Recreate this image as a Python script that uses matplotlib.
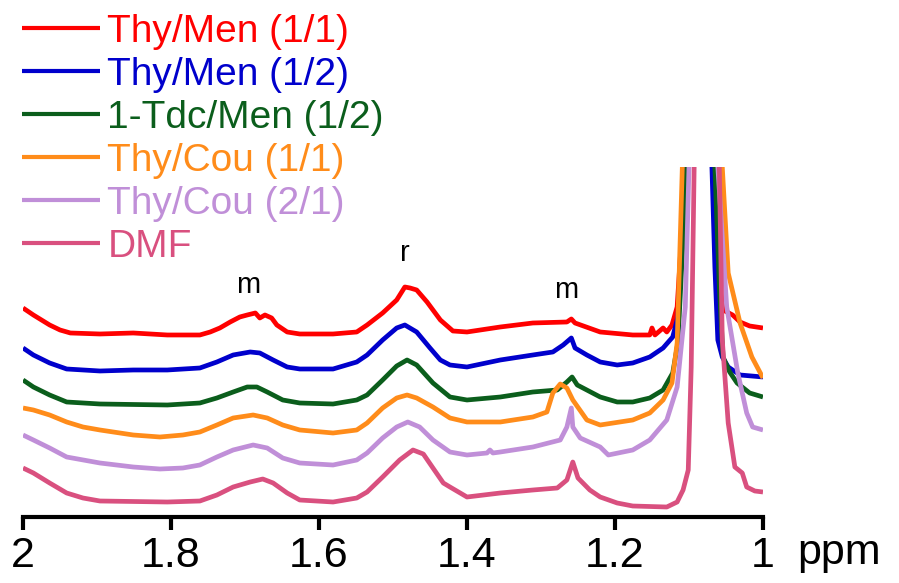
import matplotlib
matplotlib.use("Agg")
import matplotlib.pyplot as plt

plt.rcParams['font.family'] = ['Liberation Sans', 'DejaVu Sans']

# series labels and colours (legend order)
labels = ["Thy/Men (1/1)", "Thy/Men (1/2)", "1-Tdc/Men (1/2)",
          "Thy/Cou (1/1)", "Thy/Cou (2/1)", "DMF"]
colors = ["#ff0000", "#0000cc", "#0b5e1c", "#ff8c1a", "#c08fd8", "#d9507f"]

# chemical shift (ppm) and stacked intensity (a.u., offset included)
thymen11_ppm = [2.000, 1.986, 1.964, 1.950, 1.936, 1.896, 1.851, 1.805, 1.761, 1.747,
                1.734, 1.720, 1.707, 1.697, 1.686, 1.680, 1.673, 1.664, 1.657, 1.643,
                1.626, 1.581, 1.549, 1.535, 1.514, 1.495, 1.484, 1.477, 1.468, 1.454,
                1.436, 1.419, 1.400, 1.355, 1.311, 1.265, 1.259, 1.254, 1.220, 1.176,
                1.153, 1.150, 1.146, 1.135, 1.130, 1.123, 1.116, 1.104, 1.086, 1.068,
                1.064, 1.058, 1.054, 1.041, 1.031, 1.018, 1.000]
thymen11_int = [209, 202, 192, 187, 184, 183, 184, 182, 182, 185,
                189, 195, 200, 202, 204, 199, 202, 199, 192, 185,
                183, 183, 185, 192, 204, 217, 230, 229, 227, 215,
                197, 186, 185, 190, 194, 195, 198, 194, 185, 182,
                182, 189, 182, 189, 185, 192, 210, 350, 3000, 350,
                287, 227, 207, 202, 195, 191, 189]

thymen12_ppm = [2.000, 1.986, 1.964, 1.941, 1.896, 1.851, 1.805, 1.761, 1.738, 1.716,
                1.693, 1.680, 1.662, 1.643, 1.626, 1.581, 1.549, 1.535, 1.514, 1.495,
                1.484, 1.468, 1.450, 1.436, 1.423, 1.400, 1.355, 1.311, 1.284, 1.270,
                1.259, 1.254, 1.238, 1.220, 1.197, 1.176, 1.153, 1.135, 1.122, 1.115,
                1.104, 1.086, 1.069, 1.065, 1.061, 1.055, 1.047, 1.031, 1.000]
thymen12_int = [169, 162, 154, 148, 146, 147, 147, 149, 155, 162,
                165, 164, 157, 150, 148, 148, 155, 162, 177, 189,
                192, 185, 169, 157, 152, 150, 157, 162, 165, 172,
                179, 169, 162, 155, 152, 154, 160, 169, 180, 200,
                350, 3000, 350, 250, 177, 160, 150, 142, 140]

tdcmen12_ppm = [2.000, 1.986, 1.964, 1.941, 1.896, 1.805, 1.761, 1.738, 1.716, 1.697,
                1.684, 1.670, 1.649, 1.626, 1.581, 1.549, 1.535, 1.514, 1.495, 1.481,
                1.468, 1.446, 1.423, 1.400, 1.355, 1.311, 1.278, 1.265, 1.258, 1.251,
                1.220, 1.197, 1.176, 1.153, 1.135, 1.122, 1.115, 1.103, 1.085, 1.065,
                1.059, 1.054, 1.045, 1.035, 1.018, 1.000]
tdcmen12_int = [137, 130, 122, 115, 113, 112, 114, 119, 125, 130,
                130, 125, 117, 114, 113, 117, 122, 137, 151, 157,
                152, 134, 120, 117, 120, 125, 127, 135, 140, 132,
                120, 115, 115, 119, 127, 144, 174, 350, 3000, 350,
                230, 160, 145, 134, 124, 120]

thycou11_ppm = [2.000, 1.986, 1.964, 1.941, 1.919, 1.896, 1.851, 1.815, 1.784, 1.761,
                1.738, 1.716, 1.689, 1.670, 1.649, 1.626, 1.581, 1.549, 1.535, 1.514,
                1.495, 1.481, 1.468, 1.446, 1.423, 1.400, 1.355, 1.311, 1.292, 1.284,
                1.274, 1.265, 1.257, 1.238, 1.220, 1.176, 1.153, 1.135, 1.123, 1.116,
                1.109, 1.082, 1.055, 1.047, 1.031, 1.015, 1.000]
thycou11_int = [109, 107, 102, 95, 90, 87, 82, 80, 82, 85,
                92, 99, 102, 99, 92, 87, 84, 87, 94, 109,
                119, 122, 119, 110, 99, 95, 95, 100, 105, 124,
                133, 129, 117, 97, 92, 97, 104, 117, 134, 174,
                350, 3000, 350, 244, 194, 160, 139]

thycou21_ppm = [2.000, 1.986, 1.964, 1.941, 1.896, 1.851, 1.815, 1.784, 1.761, 1.738,
                1.716, 1.689, 1.670, 1.649, 1.626, 1.581, 1.549, 1.535, 1.514, 1.495,
                1.480, 1.464, 1.446, 1.423, 1.400, 1.373, 1.369, 1.365, 1.355, 1.311,
                1.274, 1.265, 1.259, 1.257, 1.247, 1.220, 1.209, 1.176, 1.153, 1.130,
                1.116, 1.105, 1.100, 1.080, 1.061, 1.049, 1.034, 1.022, 1.014, 1.000]
thycou21_int = [82, 77, 69, 60, 54, 50, 48, 49, 52, 60,
                67, 72, 69, 59, 54, 52, 57, 64, 79, 90,
                95, 90, 77, 65, 62, 64, 67, 64, 65, 70,
                77, 90, 109, 90, 79, 70, 62, 67, 77, 97,
                130, 210, 350, 3000, 350, 210, 144, 104, 90, 87]

dmf_ppm = [2.000, 1.986, 1.964, 1.941, 1.919, 1.896, 1.805, 1.761, 1.738, 1.716,
           1.693, 1.676, 1.662, 1.643, 1.626, 1.581, 1.549, 1.535, 1.514, 1.491,
           1.473, 1.459, 1.446, 1.432, 1.423, 1.400, 1.355, 1.311, 1.278, 1.265,
           1.257, 1.250, 1.234, 1.220, 1.197, 1.176, 1.130, 1.116, 1.108, 1.101,
           1.097, 1.093, 1.076, 1.059, 1.055, 1.047, 1.038, 1.028, 1.022, 1.011,
           1.000]
dmf_int = [49, 44, 34, 24, 19, 16, 15, 16, 22, 30,
           35, 38, 34, 24, 17, 15, 19, 25, 40, 57,
           67, 63, 49, 34, 30, 20, 24, 27, 29, 37,
           55, 39, 27, 20, 14, 11, 10, 15, 27, 47,
           150, 350, 3000, 350, 177, 94, 50, 44, 30, 26,
           25]

series = [(thymen11_ppm, thymen11_int), (thymen12_ppm, thymen12_int),
          (tdcmen12_ppm, tdcmen12_int), (thycou11_ppm, thycou11_int),
          (thycou21_ppm, thycou21_int), (dmf_ppm, dmf_int)]

# peak assignments: (label, ppm, height)
notes = [("m", 1.696, 232), ("r", 1.484, 264), ("m", 1.266, 227)]

fig = plt.figure(figsize=(8.99, 5.83), dpi=100)
ax = fig.add_axes([0.0256, 0.1132, 0.8231, 0.6004])

handles = []
for (x, y), c, lab in zip(series, colors, labels):
    ln, = ax.plot(x, y, color=c, lw=3.4, label=lab,
                  solid_joinstyle='round', solid_capstyle='butt')
    handles.append(ln)

for txt, xp, yp in notes:
    ax.text(xp, yp, txt, ha='center', va='center', fontsize=21)

ax.set_xlim(2, 1)
ax.set_ylim(0, 350)
for s in ['top', 'right', 'left']:
    ax.spines[s].set_visible(False)
ax.spines['bottom'].set_linewidth(3)
ax.set_yticks([])
ax.set_xticks([2, 1.8, 1.6, 1.4, 1.2, 1])
ax.set_xticklabels(["2", "1.8", "1.6", "1.4", "1.2", "1"])
ax.tick_params(axis='x', direction='out', length=9, width=3, labelsize=31, pad=5)

fig.text(797 / 899, 1 - 553 / 583, "ppm", fontsize=31, va='center', ha='left')

leg = fig.legend(handles=handles, loc='upper left', bbox_to_anchor=(0.02, 0.983),
                 frameon=False, fontsize=28, labelcolor='linecolor',
                 handlelength=2.0, handletextpad=0.2, labelspacing=0.18,
                 borderpad=0.1, borderaxespad=0)
for h in leg.legend_handles:
    h.set_linewidth(3)

fig.savefig("out.png", dpi=100)
